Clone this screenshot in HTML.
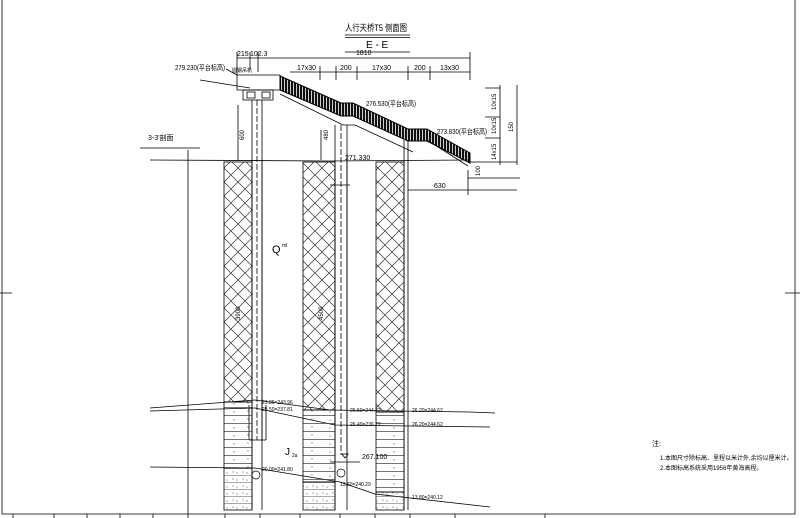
<!DOCTYPE html>
<html><head><meta charset="utf-8"><style>
html,body{margin:0;padding:0;background:#fff;}
svg{display:block;}
text{font-family:"Liberation Sans","Noto Sans CJK SC",sans-serif;fill:#000;}
</style></head><body>
<svg width="800" height="518" viewBox="0 0 800 518" xmlns="http://www.w3.org/2000/svg">
<defs>
<pattern id="xh" width="14" height="14" patternUnits="userSpaceOnUse">
<path d="M0 0L14 14M14 0L0 14" stroke="#333" stroke-width="0.7"/>
</pattern>
<pattern id="st" width="3" height="20" patternUnits="userSpaceOnUse">
<rect width="2.2" height="20" fill="#111"/>
</pattern>
<pattern id="ly" width="32" height="8" patternUnits="userSpaceOnUse">
<path d="M0 7.5H32" stroke="#444" stroke-width="0.7"/>
<circle cx="10" cy="4" r="0.6" fill="#555"/><circle cx="24" cy="3" r="0.6" fill="#555"/>
</pattern>
<pattern id="dt" width="10" height="7" patternUnits="userSpaceOnUse">
<path d="M0 6.5H10" stroke="#555" stroke-width="0.5"/>
<path d="M2 3h2M6 4h2" stroke="#555" stroke-width="0.5"/>
</pattern>
</defs>
<g fill="none" stroke="#000" stroke-width="0.8">
<path d="M2 0V514H795V0"/>
<path d="M0 293H12M785 293H800"/>
<path d="M13 514V518M54 514V518M87 514V518M120 514V518M153 514V518M188 514V518M225 514V518M260 514V518M300 514V518M340 514V518M375 514V518M410 514V518M455 514V518M545 514V518"/>
<path d="M345 35H410M345 37.5H410M345 52H410"/>
<path d="M237 58H470M237 52V70M250 52V70M258 52V72M470 52V80"/>
<path d="M290 72H470M320 66V80M336 66V80M357 66V80M408 66V80M430 66V80"/>
<path d="M485 88H500M485 117H500M485 138H500M470 162H517M500 85V165M517 85V165M468 178H520M468 190H517M408 190H470M468 170V195"/>
<path d="M150 160L330 161L470 160"/>
<path d="M188 150V514M140 148H200"/>
<path d="M237 70V90H280V75M237 75H280"/>
<rect x="243" y="90" width="30" height="10"/>
<path d="M237 75L226 69M200 80L250 88"/>
<rect x="247" y="92" width="8" height="6"/><rect x="262" y="92" width="8" height="6"/>
<path d="M257 100V440" stroke-dasharray="6 2"/>
<path d="M252 100V440M262 100V440M249 405V440M249 440H266M266 405V440"/>
<path d="M238 105V160"/>
<path d="M335 125V455M347 125V455"/>
<path d="M341 125V455" stroke-dasharray="6 2"/>
<path d="M321 130V160M330 185H350"/>
<path d="M404 140V162M408 140V162"/>
<path d="M280 94L343 125H355L413 152"/>
<path d="M427 140L468 166"/>
<path d="M150 408L255 400L330 410L470 412L495 413"/>
<path d="M150 411L255 408L335 425L490 427"/>
<path d="M150 467L255 468L340 482L375 494L490 507"/>
<path d="M330 462H360M345 458l-3 -4h6z"/>
</g>
<g stroke="#000" stroke-width="0.8">
<rect x="224" y="162" width="28" height="240" fill="url(#xh)"/>
<rect x="224" y="402" width="28" height="66" fill="url(#ly)"/>
<rect x="224" y="468" width="28" height="42" fill="url(#dt)"/>
<rect x="303" y="162" width="32" height="248" fill="url(#xh)"/>
<rect x="303" y="410" width="32" height="72" fill="url(#ly)"/>
<rect x="303" y="482" width="32" height="28" fill="url(#dt)"/>
<rect x="376" y="162" width="28" height="250" fill="url(#xh)"/>
<rect x="376" y="412" width="28" height="80" fill="url(#ly)"/>
<rect x="376" y="492" width="28" height="18" fill="url(#dt)"/>
<path d="M252 160V510M262 160V510M335 160V510M347 160V510M404 162V510M408 162V510" fill="none"/>
</g>
<path d="M280 76L341 103H353L408 129H427L470 153V163L427 141H408L353 116H341L280 90Z" fill="url(#st)" stroke="#000" stroke-width="1"/>
<g font-size="7">
<text x="345" y="31" font-size="9" textLength="62" lengthAdjust="spacingAndGlyphs">人行天桥T5 侧面图</text>
<text x="366" y="48" font-size="10">E - E</text>
<text x="356" y="55">1810</text>
<text x="237" y="56">215</text><text x="250" y="56">102.3</text>
<text x="297" y="70">17x30</text><text x="340" y="70">200</text>
<text x="372" y="70">17x30</text><text x="414" y="70">200</text>
<text x="440" y="70">13x30</text>
<text x="175" y="70" textLength="50" lengthAdjust="spacingAndGlyphs">279.230(平台标高)</text>
<text x="232" y="72" font-size="5">圆钢吊机</text>
<text x="366" y="106" textLength="50" lengthAdjust="spacingAndGlyphs">276.530(平台标高)</text>
<text x="437" y="134" textLength="50" lengthAdjust="spacingAndGlyphs">273.830(平台标高)</text>
<text x="345" y="160">271.330</text>
<text x="148" y="140">3-3'剖面</text>
<text x="434" y="188">630</text>
<text x="272" y="253" font-size="11">Q</text><text x="282" y="247" font-size="5">ml</text>
<text x="285" y="455" font-size="10">J</text><text x="292" y="457" font-size="5">2a</text>
<text x="362" y="459">267.100</text>
<text x="652" y="446">注:</text>
<text x="660" y="460" font-size="6">1.本图尺寸除标高、里程以米计外,余均以厘米计。</text>
<text x="660" y="470" font-size="6">2.本图标高系统采用1956年黄海高程。</text>
</g>
<g font-size="5">
<text x="262" y="404">23.85=243.96</text><text x="262" y="411">25.50=237.81</text>
<text x="350" y="412">26.50=244.72</text><text x="350" y="426">26.40=236.72</text>
<text x="412" y="412">26.20=244.62</text><text x="412" y="426">26.20=244.62</text>
<text x="262" y="471">20.00=241.80</text><text x="340" y="486">13.60=240.29</text>
<text x="412" y="499">13.80=240.12</text>
</g>
<g transform="rotate(-90)" font-size="6">
<text x="-140" y="244">600</text><text x="-140" y="328">480</text>
<text x="-320" y="240">3900</text><text x="-320" y="323">4500</text>
<text x="-110" y="496">10x15</text><text x="-134" y="496">10x15</text><text x="-160" y="496">14x15</text>
<text x="-132" y="513">150</text><text x="-176" y="480">100</text>
</g>
<circle cx="256" cy="475" r="4" fill="none" stroke="#000" stroke-width="0.7"/>
<circle cx="341" cy="473" r="4" fill="none" stroke="#000" stroke-width="0.7"/>
</svg>
</body></html>
